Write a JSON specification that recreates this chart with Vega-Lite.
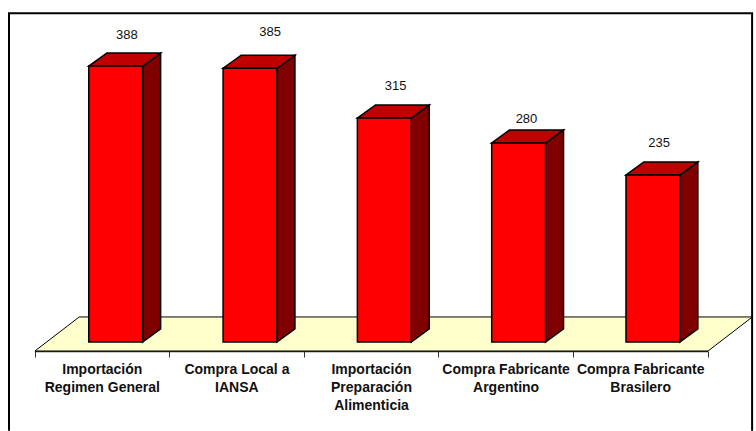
{
"$schema":"https://vega.github.io/schema/vega-lite/v6.json",
"width":756,"height":431,"padding":0,"autosize":{"type":"none"},"background":"white",
"config":{"view":{"stroke":null},"font":"Liberation Sans"},
"datasets":{
"bars":[
{"label":"Importación|Regimen General","value":388,"pos":0},
{"label":"Compra Local a|IANSA","value":385,"pos":1},
{"label":"Importación|Preparación|Alimenticia","value":315,"pos":2},
{"label":"Compra Fabricante|Argentino","value":280,"pos":3},
{"label":"Compra Fabricante|Brasilero","value":235,"pos":4}],
"floor":[{"u0":0,"u1":5.012,"v":-12.66},{"u0":0.33,"u1":5.342,"v":35.2}],
"frame":[{"u":-0.193,"v":-125,"o":0},{"u":-0.193,"v":462.4,"o":1},{"u":5.34,"v":462.4,"o":2},{"u":5.34,"v":-125,"o":3}]
},
"resolve":{"scale":{"x":"independent"},"axis":{"x":"independent"}},
"layer":[
{"data":{"name":"frame"},"mark":{"type":"line","stroke":"black","strokeWidth":2,"clip":false},
"encoding":{"order":{"field":"o"},
"x":{"field":"u","type":"quantitative","axis":null,"scale":{"domain":[-0.26,5.369],"nice":false,"zero":false}},
"y":{"field":"v","type":"quantitative","axis":null,"scale":{"domain":[-125.2,481],"nice":false,"zero":false}}}},
{"data":{"name":"floor"},"mark":{"type":"area","orient":"horizontal","fill":"#FFFFCC","stroke":"black","strokeWidth":1},
"encoding":{
"y":{"field":"v","type":"quantitative","axis":null,"scale":{"domain":[-125.2,481],"nice":false,"zero":false}},
"x":{"field":"u0","type":"quantitative","axis":null,"scale":{"domain":[-0.26,5.369],"nice":false,"zero":false}},
"x2":{"field":"u1"}}},
{"data":{"name":"bars"},"mark":{"type":"rule","opacity":0},
"encoding":{"x":{"field":"label","type":"nominal","sort":null,"scale":{"range":[34.5,707.5],"paddingInner":0,"paddingOuter":0},
"axis":{"title":null,"orient":"bottom","offset":-80,"grid":false,"labelAngle":0,"tickBand":"extent","tickSize":6,"tickColor":"#333333","tickWidth":1,"domainColor":"#333333","domainWidth":1.3,
"labelExpr":"split(datum.label,'|')","labelFont":"Liberation Sans","labelFontWeight":"bold","labelFontSize":14,"labelColor":"#111111","labelLineHeight":18,"labelPadding":5,"labelLimit":0,"labelOverlap":false,"labelBaseline":"top"}}}},
{"data":{"name":"bars"},
"transform":[{"fold":["a","b"],"as":["k","kv"]},
{"calculate":"datum.pos+0.802+(datum.k==='b'?0.134:0)","as":"xs"},
{"calculate":"datum.value+(datum.k==='b'?18.3:0)","as":"yt"},
{"calculate":"datum.k==='b'?18.3:0","as":"yb"}],
"mark":{"type":"area","fill":"#800000","stroke":"black","strokeWidth":1.5},
"encoding":{"detail":{"field":"label"},
"x":{"field":"xs","type":"quantitative","axis":null,"scale":{"domain":[-0.26,5.369],"nice":false,"zero":false}},
"y":{"field":"yt","type":"quantitative","axis":null,"scale":{"domain":[-125.2,481],"nice":false,"zero":false}},
"y2":{"field":"yb"}}},
{"data":{"name":"bars"},
"transform":[{"fold":["a","b"],"as":["k","kv"]},
{"calculate":"datum.pos+0.401+(datum.k==='b'?0.134:0)","as":"xl"},
{"calculate":"datum.pos+0.802+(datum.k==='b'?0.134:0)","as":"xr"},
{"calculate":"datum.value+(datum.k==='b'?18.3:0)","as":"yt"}],
"mark":{"type":"area","orient":"horizontal","fill":"#C00000","stroke":"black","strokeWidth":1.5},
"encoding":{"detail":{"field":"label"},
"y":{"field":"yt","type":"quantitative","axis":null,"scale":{"domain":[-125.2,481],"nice":false,"zero":false}},
"x":{"field":"xl","type":"quantitative","axis":null,"scale":{"domain":[-0.26,5.369],"nice":false,"zero":false}},
"x2":{"field":"xr"}}},
{"data":{"name":"bars"},
"transform":[{"calculate":"datum.pos+0.401","as":"xl"},{"calculate":"datum.pos+0.802","as":"xr"}],
"mark":{"type":"rect","fill":"#FF0000","stroke":"black","strokeWidth":1.5},
"encoding":{
"x":{"field":"xl","type":"quantitative","axis":null,"scale":{"domain":[-0.26,5.369],"nice":false,"zero":false}},
"x2":{"field":"xr"},
"y":{"field":"value","type":"quantitative","axis":null,"scale":{"domain":[-125.2,481],"nice":false,"zero":false}},
"y2":{"datum":0}}},
{"data":{"name":"bars"},
"transform":[
{"calculate":"datum.pos+[0.684,0.751,0.685,0.660,0.648][datum.pos]","as":"lx"},
{"calculate":"datum.value+[26,33,28,16.5,27.5][datum.pos]+18.3-1","as":"ly"}],
"mark":{"type":"text","font":"Liberation Sans","fontSize":13,"color":"#111111","baseline":"middle"},
"encoding":{"text":{"field":"value","type":"quantitative"},
"x":{"field":"lx","type":"quantitative","axis":null,"scale":{"domain":[-0.26,5.369],"nice":false,"zero":false}},
"y":{"field":"ly","type":"quantitative","axis":null,"scale":{"domain":[-125.2,481],"nice":false,"zero":false}}}}
]
}
